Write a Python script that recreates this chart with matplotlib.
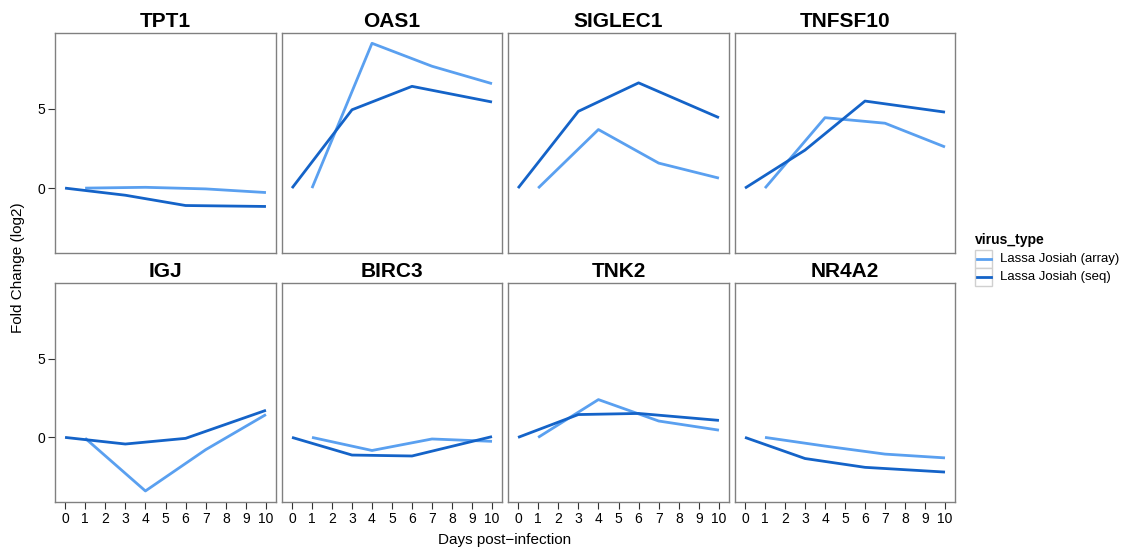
import matplotlib
matplotlib.use("Agg")
import matplotlib.pyplot as plt
from matplotlib.patches import Rectangle
from matplotlib.lines import Line2D

plt.rcParams['font.family'] = ['Liberation Sans', 'DejaVu Sans']

genes = ['TPT1', 'OAS1', 'SIGLEC1', 'TNFSF10', 'IGJ', 'BIRC3', 'TNK2', 'NR4A2']

days_array = [1, 4, 7, 10]
days_seq = [0, 3, 6, 10]

# log2 fold change
array_vals = {
    'TPT1':    [0.0, 0.05, -0.05, -0.28],
    'OAS1':    [0.0, 9.15, 7.7, 6.6],
    'SIGLEC1': [0.0, 3.7, 1.58, 0.63],
    'TNFSF10': [0.0, 4.45, 4.1, 2.6],
    'IGJ':     [-0.05, -3.4, -0.78, 1.45],
    'BIRC3':   [0.0, -0.83, -0.1, -0.25],
    'TNK2':    [0.0, 2.4, 1.04, 0.46],
    'NR4A2':   [0.0, -0.55, -1.06, -1.3],
}
seq_vals = {
    'TPT1':    [0.0, -0.45, -1.1, -1.16],
    'OAS1':    [0.0, 4.95, 6.43, 5.44],
    'SIGLEC1': [0.0, 4.85, 6.65, 4.45],
    'TNFSF10': [0.0, 2.4, 5.5, 4.8],
    'IGJ':     [0.0, -0.42, -0.06, 1.72],
    'BIRC3':   [0.0, -1.12, -1.18, 0.05],
    'TNK2':    [0.0, 1.45, 1.52, 1.08],
    'NR4A2':   [0.0, -1.34, -1.9, -2.2],
}
series_names = ['Lassa Josiah (array)', 'Lassa Josiah (seq)']

c_array = '#5aa0f0'
c_seq = '#1463c8'
edge = '#808080'

W, H = 1121, 548
fig = plt.figure(figsize=(W / 100, H / 100), dpi=100, facecolor='white')

cols = [(55, 276), (282, 502), (508, 729), (735, 955)]
rows = [(33, 253), (283, 502)]

for k, g in enumerate(genes):
    r, c = divmod(k, 4)
    x0, x1 = cols[c]
    y0, y1 = rows[r]
    ax = fig.add_axes([x0 / W, 1 - y1 / H, (x1 - x0) / W, (y1 - y0) / H])
    ax.plot(days_array, array_vals[g], color=c_array, lw=2.0, solid_capstyle='butt')
    ax.plot(days_seq, seq_vals[g], color=c_seq, lw=2.0, solid_capstyle='butt')
    ax.set_xlim(-0.5, 10.5)
    ax.set_ylim(-4.1, 9.8)
    ax.set_title(g, fontsize=15, fontweight='bold', pad=4)
    for s in ax.spines.values():
        s.set_color(edge)
        s.set_linewidth(1.0)
    ax.set_xticks(range(11))
    ax.set_yticks([0, 5])
    ax.tick_params(direction='out', length=5, color='#333333', labelsize=10,
                   labelcolor='black', pad=2)
    if r == 0:
        ax.tick_params(axis='x', bottom=False, labelbottom=False)
    if c != 0:
        ax.tick_params(axis='y', left=False, labelleft=False)

fig.text(505 / W, 1 - 540 / H, 'Days post\u2212infection', ha='center', va='center', fontsize=11)
fig.text(18 / W, 1 - 268 / H, 'Fold Change (log2)', ha='center', va='center',
         rotation=90, fontsize=11)

# legend, drawn by hand to get the ggplot key boxes
lax = fig.add_axes([0, 0, 1, 1])
lax.set_xlim(0, W)
lax.set_ylim(H, 0)
lax.axis('off')
lax.text(975, 240, 'virus_type', fontsize=10, fontweight='bold', va='center', ha='left')
for i, (name, col) in enumerate(zip(series_names, [c_array, c_seq])):
    top = 250 + 18 * i
    lax.add_patch(Rectangle((975, top), 17, 18, facecolor='white',
                            edgecolor='#d0d0d0', lw=1.0))
    lax.add_line(Line2D([976.5, 990.5], [top + 9, top + 9], color=col, lw=2.0))
    lax.text(1000, top + 9, name, fontsize=9.5, va='center', ha='left')

fig.savefig('out.png', dpi=100, facecolor='white')
